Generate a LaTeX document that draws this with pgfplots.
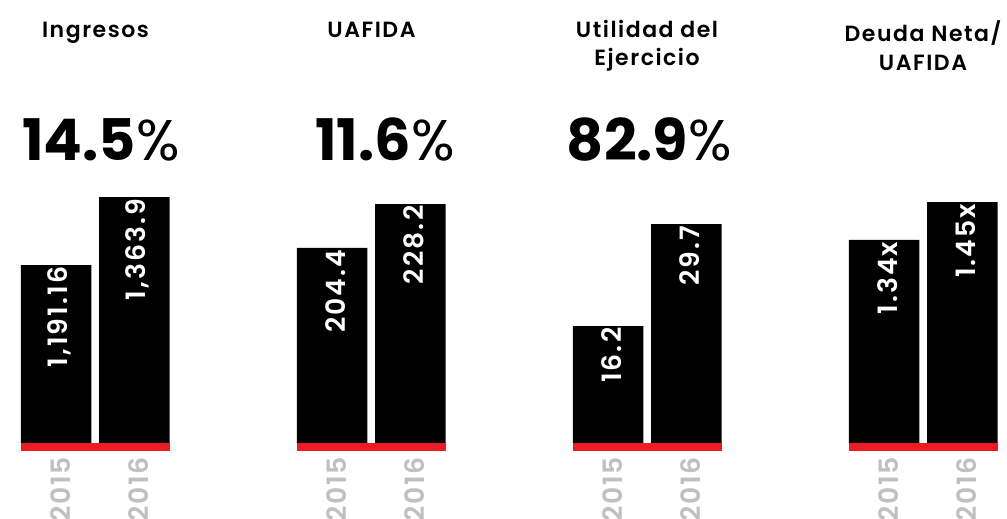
\documentclass[border=0pt]{standalone}
\usepackage{pgfplots}
\pgfplotsset{compat=1.18}
\usepackage{fontspec}
\setmainfont{Poppins}[BoldFont=* SemiBold]
\newfontfamily\heavy{Poppins}[UprightFont=* Bold]
\definecolor{barred}{RGB}{237,28,36}
\definecolor{yeargray}{RGB}{192,192,194}

\pgfplotsset{
  panel/.style={
    scale only axis, width=111.375pt,
    xmin=-0.449, xmax=1.449, enlargelimits=false,
    hide y axis, axis x line*=bottom, x axis line style={draw=none},
    xtick={0,1}, xticklabels={2015,2016}, major tick length=0pt,
    xticklabel style={yshift=-10.5pt, xshift=3pt, rotate=90, anchor=east, inner sep=0pt,
      font=\bfseries\fontsize{20}{20}\selectfont\addfontfeature{LetterSpace=6}, color=yeargray},
    ybar, bar width=52.875pt, clip=false,
    nodes near coords, point meta=explicit symbolic,
    every node near coord/.append style={xshift=2.5pt, yshift=-1pt, rotate=90, anchor=east, inner sep=0pt,
      font=\bfseries\fontsize{20}{20}\selectfont\addfontfeature{LetterSpace=8}, text=white},
    anchor=south west,
  },
  barstyle/.style={fill=black, draw=none},
}

\begin{document}
\begin{tikzpicture}
\clip (0pt,0pt) rectangle (755.25pt,-388.5pt);
\path[fill=white] (0pt,0pt) rectangle (755.25pt,-388.5pt);

% Panel 1
\begin{axis}[panel, at={(15.75pt,-332.25pt)}, height=184.5pt, ymin=739, ymax=1363.9]
\addplot[barstyle] table[meta=label] {
x y label
0 1191.16 {1,191.16}
1 1363.9 {1,363.9}
};
\fill[barred] (rel axis cs:0,0) rectangle ([yshift=-6pt]rel axis cs:1,0);
\end{axis}

% Panel 2
\begin{axis}[panel, at={(222.75pt,-332.25pt)}, height=179.25pt, ymin=98.9, ymax=228.2]
\addplot[barstyle] table[meta=label] {
x y label
0 204.4 204.4
1 228.2 228.2
};
\fill[barred] (rel axis cs:0,0) rectangle ([yshift=-6pt]rel axis cs:1,0);
\end{axis}

% Panel 3
\begin{axis}[panel, at={(429.75pt,-332.25pt)}, height=164.25pt, ymin=0.72, ymax=29.7]
\addplot[barstyle] table[meta=label] {
x y label
0 16.2 16.2
1 29.7 29.7
};
\fill[barred] (rel axis cs:0,0) rectangle ([yshift=-6pt]rel axis cs:1,0);
\end{axis}

% Panel 4
\begin{axis}[panel, at={(636.75pt,-332.25pt)}, height=180.75pt, ymin=0.752, ymax=1.45]
\addplot[barstyle] table[meta=label] {
x y label
0 1.34 1.34x
1 1.45 1.45x
};
\fill[barred] (rel axis cs:0,0) rectangle ([yshift=-6pt]rel axis cs:1,0);
\end{axis}

% Titles
\begin{scope}[every node/.style={anchor=base, inner sep=0pt, font=\bfseries\fontsize{16.5}{16.5}\selectfont\addfontfeature{LetterSpace=7}}]
\node at (71.625pt,-27.75pt) {Ingresos};
\node at (278.625pt,-27.75pt) {UAFIDA};
\node at (485.25pt,-27.75pt) {Utilidad del};
\node at (485.25pt,-48.75pt) {Ejercicio};
\node at (692.25pt,-30.75pt) {Deuda Neta/};
\node at (692.25pt,-52.5pt) {UAFIDA};
\end{scope}

% Growth figures
\begin{scope}[every node/.style={anchor=base east, inner sep=0pt, font=\fontsize{43}{43}\selectfont}]
\node at (135pt,-120pt) {{\heavy 14.5}\%};
\node at (341.25pt,-120pt) {{\heavy 11.6}\%};
\node at (549pt,-120pt) {{\heavy 82.9}\%};
\end{scope}
\end{tikzpicture}
\end{document}
